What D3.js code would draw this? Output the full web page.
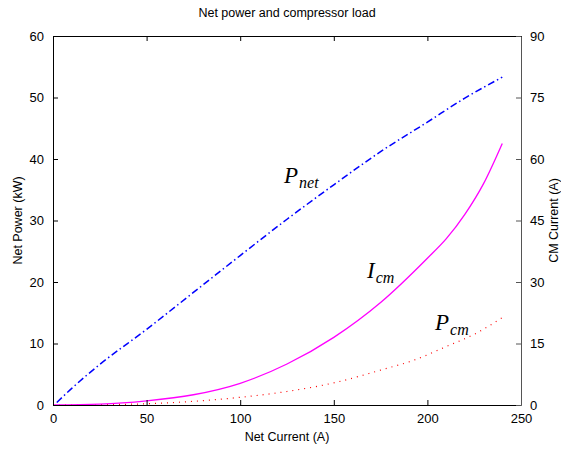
<!DOCTYPE html>
<html>
<head>
<meta charset="utf-8">
<title>Net power and compressor load</title>
<script src="https://d3js.org/d3.v7.min.js"></script>
<style>
  body { margin: 0; background: #fff; }
  text { font-family: "Liberation Sans", Arial, sans-serif; }
  .tex { font-family: "Liberation Serif", "DejaVu Serif", serif; font-style: italic; }
</style>
</head>
<body>
<svg id="chart" width="561" height="449"></svg>
<script>
// values
var pnetCurrent = [2, 10, 25, 50, 75, 100, 125, 150, 175, 200, 220, 240];
var pnetPower   = [0.4, 2.7, 6.6, 12.3, 18.3, 24.3, 30.2, 35.8, 41.2, 46.0, 49.9, 53.3];

var icmCurrent  = [0, 25, 50, 75, 100, 125, 150, 175, 200, 210, 220, 230, 240];
var icmValue    = [0, 0.2, 1.0, 2.5, 5.3, 10.0, 16.5, 25.0, 35.8, 40.5, 46.5, 54.0, 63.8];

var pcmCurrent  = [0, 25, 50, 75, 100, 125, 150, 177, 192, 210, 226, 240];
var pcmPower    = [0, 0.05, 0.2, 0.6, 1.25, 2.2, 3.6, 5.85, 7.2, 9.5, 11.65, 14.2];

var xTicks      = [0, 50, 100, 150, 200, 250];
var leftTicks   = [0, 10, 20, 30, 40, 50, 60];
var rightTicks  = [0, 15, 30, 45, 60, 75, 90];

var plotL = 53, plotR = 521, plotT = 36, plotB = 405;
var svg = d3.select("#chart");

var x = d3.scaleLinear().domain([0, 250]).range([plotL, plotR]);
var yL = d3.scaleLinear().domain([0, 60]).range([plotB, plotT]);
var yR = d3.scaleLinear().domain([0, 90]).range([plotB, plotT]);

function zip(a, b) { return a.map(function(v, i) { return [v, b[i]]; }); }

// curves
var lineL = d3.line().x(function(d) { return x(d[0]); }).y(function(d) { return yL(d[1]); }).curve(d3.curveMonotoneX);
var lineR = d3.line().x(function(d) { return x(d[0]); }).y(function(d) { return yR(d[1]); }).curve(d3.curveMonotoneX);

svg.append("path").attr("d", lineL(zip(pcmCurrent, pcmPower)))
  .attr("fill", "none").attr("stroke", "#ff0000").attr("stroke-width", 1.2)
  .attr("stroke-dasharray", "1,5");
svg.append("path").attr("d", lineL(zip(pnetCurrent, pnetPower)))
  .attr("fill", "none").attr("stroke", "#0000ff").attr("stroke-width", 1.5)
  .attr("stroke-dasharray", "7,3,1.5,3");
svg.append("path").attr("d", lineR(zip(icmCurrent, icmValue)))
  .attr("fill", "none").attr("stroke", "#ff00ff").attr("stroke-width", 1.3);

// axes (ticks inside, like matlab)
var fs = 13;
function styleText(g) { g.selectAll("text").attr("font-size", fs).attr("fill", "#000").attr("font-family", null); }

svg.append("g").attr("transform", "translate(0," + plotB + ")")
  .call(d3.axisBottom(x).tickValues(xTicks).tickSizeInner(-5).tickSizeOuter(0).tickPadding(9))
  .call(styleText);
svg.append("g").attr("transform", "translate(0," + plotT + ")")
  .call(d3.axisTop(x).tickValues(xTicks).tickSizeInner(-5).tickSizeOuter(0).tickFormat(""));
svg.append("g").attr("transform", "translate(" + plotL + ",0)")
  .call(d3.axisLeft(yL).tickValues(leftTicks).tickSizeInner(-5).tickSizeOuter(0).tickPadding(9))
  .call(styleText);
svg.append("g").attr("transform", "translate(" + plotR + ",0)")
  .call(d3.axisRight(yR).tickValues(rightTicks).tickSizeInner(-5).tickSizeOuter(0).tickPadding(9))
  .call(styleText)
  .call(function(g) { g.selectAll("line,path").attr("stroke", "#555"); });

// titles
svg.append("text").attr("x", (plotL + plotR) / 2).attr("y", 17).attr("text-anchor", "middle")
  .attr("font-size", 12.5).text("Net power and compressor load");
svg.append("text").attr("x", (plotL + plotR) / 2).attr("y", 441).attr("text-anchor", "middle")
  .attr("font-size", 12.5).text("Net Current (A)");
svg.append("text").attr("transform", "translate(22," + ((plotT + plotB) / 2) + ") rotate(-90)")
  .attr("text-anchor", "middle").attr("font-size", 12.5).text("Net Power (kW)");
svg.append("text").attr("transform", "translate(558," + ((plotT + plotB) / 2) + ") rotate(-90)")
  .attr("text-anchor", "middle").attr("font-size", 12.5).text("CM Current (A)");

// curve labels
function texLabel(px, py, main, sub) {
  var t = svg.append("text").attr("class", "tex").attr("x", px).attr("y", py).attr("font-size", 23);
  t.append("tspan").text(main);
  t.append("tspan").attr("font-size", 16).attr("dy", 5).attr("dx", 1).text(sub);
}
texLabel(284, 183, "P", "net");
texLabel(367, 278, "I", "cm");
texLabel(435, 330, "P", "cm");
</script>
</body>
</html>
